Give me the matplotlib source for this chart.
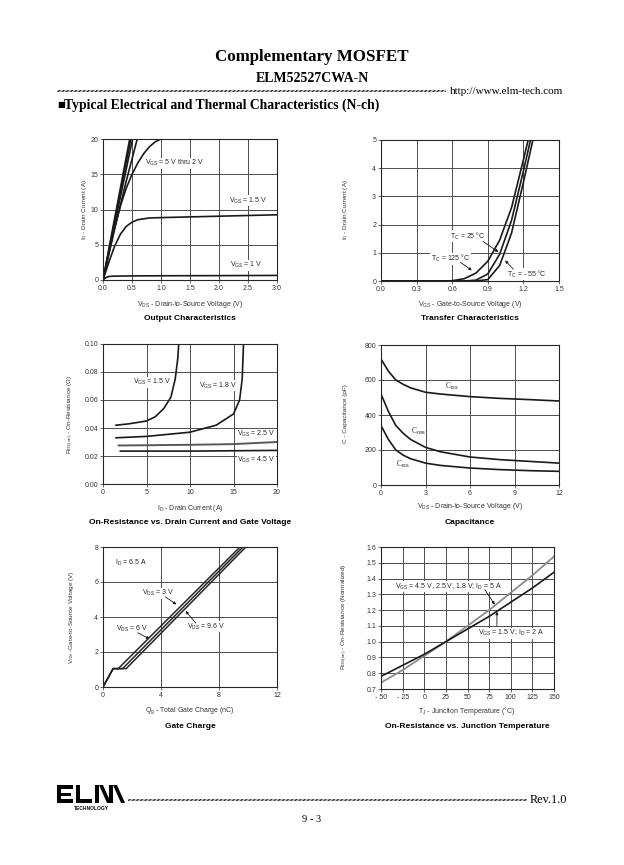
import numpy as np
import matplotlib
matplotlib.use("Agg")
import matplotlib.pyplot as plt
from matplotlib.patches import Rectangle, Polygon

plt.rcParams['font.family'] = ['Liberation Sans', 'DejaVu Sans']
plt.rcParams['mathtext.fontset'] = 'custom'
plt.rcParams['mathtext.rm'] = 'Liberation Sans'
plt.rcParams['mathtext.it'] = 'Liberation Sans:italic'
plt.rcParams['mathtext.bf'] = 'Liberation Sans:bold'
plt.rcParams['mathtext.default'] = 'rm'
plt.rcParams['hatch.linewidth'] = 0.8

# ---- Output characteristics (Vds in V, Id in A)
out_vds_5v = [0, 0.46]
out_id_5v = [0, 20]
out_vds_4v = [0, 0.48]
out_id_4v = [0, 20]
out_vds_3v = [0, 0.51]
out_id_3v = [0, 20]
out_vds_25v = [0, 0.2, 0.4, 0.59]
out_id_25v = [0, 7.2, 14, 20]
out_vds_2v = [0, 0.1, 0.2, 0.3, 0.4, 0.5, 0.6, 0.7, 0.8, 0.9, 1.0]
out_id_2v = [0, 3.8, 7.4, 10.5, 13.0, 15.0, 16.6, 17.9, 18.9, 19.6, 20]
out_vds_15v = [0, 0.1, 0.2, 0.3, 0.4, 0.5, 0.6, 0.8, 1.0, 1.5, 2.0, 2.5, 3.0]
out_id_15v = [0, 2.5, 4.8, 6.5, 7.6, 8.2, 8.55, 8.8, 8.85, 8.95, 9.05, 9.15, 9.25]
out_vds_1v = [0, 0.05, 0.1, 0.2, 0.5, 1.0, 2.0, 3.0]
out_id_1v = [0, 0.35, 0.5, 0.55, 0.58, 0.6, 0.62, 0.65]

# ---- Transfer characteristics (Vgs in V, Id in A)
tr_vgs_125 = [0, 0.5, 0.6, 0.7, 0.8, 0.9, 1.0, 1.1, 1.2, 1.24]
tr_id_125 = [0, 0, 0.01, 0.08, 0.28, 0.7, 1.45, 2.6, 4.3, 5.0]
tr_vgs_25 = [0, 0.7, 0.8, 0.9, 1.0, 1.1, 1.2, 1.26]
tr_id_25 = [0, 0, 0.03, 0.25, 0.95, 2.15, 3.9, 5.0]
tr_vgs_m55 = [0, 0.8, 0.9, 1.0, 1.1, 1.2, 1.28]
tr_id_m55 = [0, 0, 0.05, 0.55, 1.7, 3.5, 5.0]

# ---- On-resistance vs drain current (Id in A, Rds in ohm)
ron_id_15v = [1.5, 3, 5, 6, 7, 7.8, 8.3, 8.6, 8.7]
ron_r_15v = [0.042, 0.043, 0.045, 0.048, 0.054, 0.062, 0.075, 0.09, 0.1]
ron_id_18v = [1.5, 5, 10, 13, 15, 15.7, 16.0, 16.15]
ron_r_18v = [0.033, 0.034, 0.037, 0.042, 0.05, 0.06, 0.075, 0.1]
ron_id_25v = [1.8, 10, 15, 20]
ron_r_25v = [0.0275, 0.028, 0.0285, 0.030]
ron_id_45v = [2, 10, 20]
ron_r_45v = [0.0235, 0.0235, 0.024]

# ---- Capacitance (Vds in V, C in pF)
cap_vds = [0, 0.5, 1, 1.5, 2, 3, 4, 6, 8, 10, 12]
cap_ciss = [720, 650, 600, 575, 555, 530, 520, 505, 495, 488, 480]
cap_coss = [520, 420, 340, 295, 260, 215, 190, 160, 145, 135, 125]
cap_crss = [340, 260, 200, 170, 150, 125, 112, 97, 88, 82, 78]

# ---- Gate charge (Qg in nC, Vgs in V)
gc_qg_3v = [0, 0.7, 1.05, 9.45]
gc_qg_6v = [0, 0.7, 1.35, 9.65]
gc_qg_96v = [0, 0.7, 1.6, 9.85]
gc_vgs = [0, 1.05, 1.05, 8]

# ---- On-resistance vs junction temperature
tj_temp = [-50, -25, 0, 25, 50, 75, 100, 125, 150]
tj_r_id5 = [0.74, 0.82, 0.91, 1.0, 1.1, 1.2, 1.31, 1.42, 1.54]
tj_r_id2 = [0.78, 0.85, 0.92, 1.0, 1.08, 1.16, 1.25, 1.34, 1.44]

W, H = 624, 865
fig = plt.figure(figsize=(W / 100, H / 100), dpi=100)


def fx(px):
    return px / W


def fy(py):
    return 1 - py / H


def add_ax(l, t, r, b):
    return fig.add_axes([l / W, 1 - b / H, (r - l) / W, (b - t) / H])


def style(ax, xlim, ylim, xticks, yticks, xlabels, ylabels):
    ax.set_xlim(xlim)
    ax.set_ylim(ylim)
    ax.set_xticks(xticks)
    ax.set_yticks(yticks)
    ax.set_xticklabels(xlabels)
    ax.set_yticklabels(ylabels)
    ax.tick_params(labelsize=5, length=2, width=0.5, pad=1.5, colors='0.2')
    ax.grid(True, color='0.3', lw=0.7)
    ax.set_axisbelow(True)
    for s in ax.spines.values():
        s.set_linewidth(0.8)
        s.set_color('0.15')


def captions(cx, ylab_y, title_y, xlabel, title, ylx, yly, ylabel):
    fig.text(fx(cx), fy(ylab_y), xlabel, fontsize=5, ha='center', va='center', color='0.2')
    fig.text(fx(cx), fy(title_y), title, fontsize=6, weight='bold', ha='center', va='center')
    fig.text(fx(ylx), fy(yly), ylabel, fontsize=4.6, ha='center', va='center', rotation=90, color='0.2')


lab = dict(fontsize=5, color='0.15', bbox=dict(fc='white', ec='none', pad=0.3))
arr = dict(arrowstyle='-|>', lw=0.6, color='0.1', mutation_scale=4, shrinkA=0, shrinkB=0)


def rule(x0, x1, yc):
    fig.patches.append(Rectangle((fx(x0), fy(yc + 1.2)), fx(x1) - fx(x0), 2.4 / H,
                                 transform=fig.transFigure, fc='0.75', ec='0.15', lw=0,
                                 hatch='////////', figure=fig))


# ---------- 1. Output characteristics
ax = add_ax(103, 139, 277, 280)
for v, i in [(out_vds_5v, out_id_5v), (out_vds_4v, out_id_4v), (out_vds_3v, out_id_3v),
             (out_vds_25v, out_id_25v), (out_vds_2v, out_id_2v),
             (out_vds_15v, out_id_15v), (out_vds_1v, out_id_1v)]:
    ax.plot(v, i, color='0.1', lw=1.2)
style(ax, (0, 3), (0, 20), np.arange(0, 3.01, 0.5), np.arange(0, 21, 5),
      ['0.0', '0.5', '1.0', '1.5', '2.0', '2.5', '3.0'], ['0', '5', '10', '15', '20'])
ax.text(0.73, 16.3, 'V$_{GS}$ = 5 V thru 2 V', **lab)
ax.text(2.17, 11.0, 'V$_{GS}$ = 1.5 V', **lab)
ax.text(2.19, 1.85, 'V$_{GS}$ = 1 V', **lab)
captions(190, 304, 319, 'V$_{DS}$ - Drain-to-Source Voltage (V)', 'Output Characteristics',
         85, 210, 'I$_D$ - Drain Current (A)')

# ---------- 2. Transfer characteristics
ax = add_ax(381, 140, 559, 281)
for v, i in [(tr_vgs_125, tr_id_125), (tr_vgs_25, tr_id_25), (tr_vgs_m55, tr_id_m55)]:
    ax.plot(v, i, color='0.1', lw=1.2)
style(ax, (0, 1.5), (0, 5), np.arange(0, 1.51, 0.3), np.arange(0, 6, 1),
      ['0.0', '0.3', '0.6', '0.9', '1.2', '1.5'], ['0', '1', '2', '3', '4', '5'])
ax.text(0.58, 1.59, 'T$_C$ = 25 °C', va='center', **lab)
ax.annotate('', xy=(0.99, 1.03), xytext=(0.86, 1.4), arrowprops=arr)
ax.text(0.42, 0.79, 'T$_C$ = 125 °C', va='center', **lab)
ax.annotate('', xy=(0.765, 0.38), xytext=(0.67, 0.66), arrowprops=arr)
ax.text(1.06, 0.24, 'T$_C$ = - 55 °C', va='center', **lab)
ax.annotate('', xy=(1.046, 0.73), xytext=(1.115, 0.42), arrowprops=arr)
captions(470, 304, 319, 'V$_{GS}$ - Gate-to-Source Voltage (V)', 'Transfer Characteristics',
         346, 210, 'I$_D$ - Drain Current (A)')

# ---------- 3. On-resistance vs drain current
ax = add_ax(103, 344, 277, 484)
ax.plot(ron_id_15v, ron_r_15v, color='0.1', lw=1.2)
ax.plot(ron_id_18v, ron_r_18v, color='0.1', lw=1.2)
ax.plot(ron_id_25v, ron_r_25v, color='0.35', lw=1.4)
ax.plot(ron_id_45v, ron_r_45v, color='0.1', lw=1.2)
style(ax, (0, 20), (0, 0.1), np.arange(0, 21, 5), np.arange(0, 0.101, 0.02),
      ['0', '5', '10', '15', '20'], ['0.00', '0.02', '0.04', '0.06', '0.08', '0.10'])
ax.text(3.5, 0.0726, 'V$_{GS}$ = 1.5 V', va='center', **lab)
ax.text(11.0, 0.0704, 'V$_{GS}$ = 1.8 V', va='center', **lab)
ax.text(15.4, 0.0356, 'V$_{GS}$ = 2.5 V', va='center', **lab)
ax.text(15.4, 0.0172, 'V$_{GS}$ = 4.5 V', va='center', **lab)
captions(190, 508, 522, 'I$_D$ - Drain Current (A)', 'On-Resistance vs. Drain Current and Gate Voltage',
         71, 414, 'R$_{DS(on)}$ - On-Resistance (Ω)')

# ---------- 4. Capacitance
ax = add_ax(381, 345, 559, 485)
for c in [cap_ciss, cap_coss, cap_crss]:
    ax.plot(cap_vds, c, color='0.1', lw=1.2)
style(ax, (0, 12), (0, 800), np.arange(0, 13, 3), np.arange(0, 801, 200),
      ['0', '3', '6', '9', '12'], ['0', '200', '400', '600', '800'])
ax.text(4.3, 566, 'C$_{iss}$', va='center', family='Liberation Serif', fontsize=5.5, color='0.15')
ax.text(2.0, 304, 'C$_{oss}$', va='center', family='Liberation Serif', fontsize=5.5, color='0.15')
ax.text(1.0, 118, 'C$_{rss}$', va='center', family='Liberation Serif', fontsize=5.5, color='0.15')
captions(470, 506, 522, 'V$_{DS}$ - Drain-to-Source Voltage (V)', 'Capacitance',
         345, 414, 'C - Capacitance (pF)')

# ---------- 5. Gate charge
ax = add_ax(103, 547, 277, 687)
for q in [gc_qg_3v, gc_qg_6v, gc_qg_96v]:
    ax.plot(q, gc_vgs, color='0.15', lw=1.1)
style(ax, (0, 12), (0, 8), np.arange(0, 13, 4), np.arange(0, 9, 2),
      ['0', '4', '8', '12'], ['0', '2', '4', '6', '8'])
ax.text(0.8, 7.1, 'I$_D$ = 6.5 A', va='center', **lab)
ax.text(2.7, 5.35, 'V$_{DS}$ = 3 V', va='center', **lab)
ax.annotate('', xy=(5.06, 4.72), xytext=(4.3, 5.15), arrowprops=arr)
ax.text(0.92, 3.3, 'V$_{DS}$ = 6 V', va='center', **lab)
ax.annotate('', xy=(3.2, 2.75), xytext=(2.4, 3.1), arrowprops=arr)
ax.text(5.8, 3.45, 'V$_{DS}$ = 9.6 V', va='center', **lab)
ax.annotate('', xy=(5.7, 4.34), xytext=(6.4, 3.65), arrowprops=arr)
captions(190, 711, 726, 'Q$_g$ - Total Gate Charge (nC)', 'Gate Charge',
         71, 617, 'V$_{GS}$ -Gate-to-Source Voltage (V)')

# ---------- 6. On-resistance vs junction temperature
ax = add_ax(381, 547, 554, 689)
ax.plot(tj_temp, tj_r_id5, color='0.55', lw=1.3)
ax.plot(tj_temp, tj_r_id2, color='0.1', lw=1.2)
style(ax, (-50, 150), (0.7, 1.6), np.arange(-50, 151, 25), np.arange(0.7, 1.61, 0.1),
      ['- 50', '- 25', '0', '25', '50', '75', '100', '125', '150'],
      ['0.7', '0.8', '0.9', '1.0', '1.1', '1.2', '1.3', '1.4', '1.5', '1.6'])
ax.text(-33.8, 1.35, 'V$_{GS}$ = 4.5 V, 2.5 V, 1.8 V; I$_D$ = 5 A', va='center', **lab)
ax.annotate('', xy=(81.5, 1.235), xytext=(70, 1.33), arrowprops=arr)
ax.text(62.5, 1.053, 'V$_{GS}$ = 1.5 V; I$_D$ = 2 A', va='center', **lab)
ax.annotate('', xy=(84, 1.19), xytext=(84, 1.1), arrowprops=arr)
captions(467, 711, 726, 'T$_J$ - Junction Temperature (°C)', 'On-Resistance vs. Junction Temperature',
         345, 617, 'R$_{DS(on)}$ - On-Resistance (Normalized)')

# ---------- page header / footer
serif = ['Liberation Serif', 'DejaVu Serif']
fig.text(fx(312), fy(57), 'Complementary MOSFET', family=serif, weight='bold', fontsize=12.2,
         ha='center', va='center')
fig.text(fx(312), fy(78), 'ELM52527CWA-N', family=serif, weight='bold', fontsize=10,
         ha='center', va='center')
rule(57, 446, 91)
fig.text(fx(450), fy(91), 'http://www.elm-tech.com', family=serif, fontsize=8.0, va='center')
fig.text(fx(57), fy(105), '■', family=['DejaVu Sans'], fontsize=6, va='center')
fig.text(fx(64), fy(105), 'Typical Electrical and Thermal Characteristics (N-ch)', family=serif,
         weight='bold', fontsize=9.8, va='center')

rule(128, 527, 800)
fig.text(fx(530), fy(800), 'Rev.1.0', family=serif, fontsize=8.8, va='center')
fig.text(fx(312), fy(819), '9 - 3', family=serif, fontsize=7.5, ha='center', va='center')

# logo
lg = fig.add_axes([fx(57), fy(812), (125 - 57) / W, 27 / H])
lg.set_xlim(0, 68)
lg.set_ylim(27, 0)
lg.axis('off')
for (x, y, w, h) in [(0, 0, 16, 4), (0, 7.5, 14, 3), (0, 14, 16, 4), (0, 0, 4, 18),
                     (19, 0, 4, 18), (19, 14, 16, 4), (38, 0, 4, 18), (52, 0, 4, 18)]:
    lg.add_patch(Rectangle((x, y), w, h, fc='black', ec='none'))
lg.add_patch(Polygon([(42, 0), (46, 0), (54, 18), (50, 18)], closed=True, fc='black', ec='none'))
lg.add_patch(Polygon([(56, 0), (60, 0), (68, 18), (64, 18)], closed=True, fc='black', ec='none'))
lg.text(34, 23, 'TECHNOLOGY', fontsize=3.5, weight='bold', ha='center', va='center')

fig.savefig('out.png', dpi=100)
